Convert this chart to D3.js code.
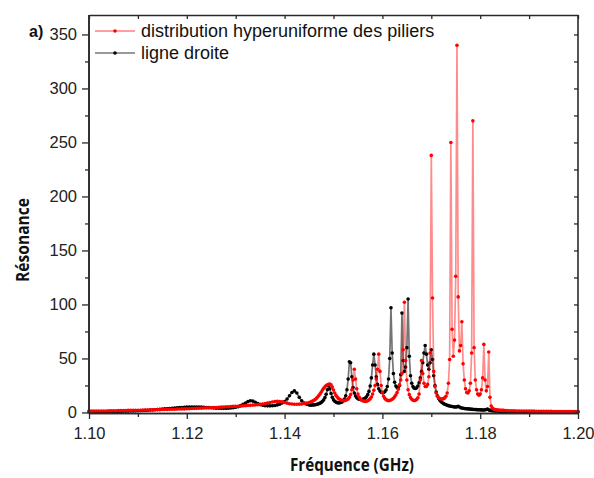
<!DOCTYPE html>
<html><head><meta charset="utf-8">
<script src="https://cdn.jsdelivr.net/npm/d3@7"></script>
<style>body{margin:0;background:#fff}</style>
</head><body>
<svg id="c" width="594" height="478"></svg>
<script>
// Frequency sweep segments (GHz): start, step, one value per point in each series segment
const sweepStart = [1.1000, 1.14525, 1.1855];
const sweepStep = [0.0005, 0.00025, 0.0005];

// "ligne droite" (black)
const blackA = [0.5,0.5,0.6,0.6,0.6,0.7,0.7,0.7,0.8,0.8,
0.9,0.9,1.0,1.0,1.1,1.2,1.2,1.3,1.4,1.5,
1.6,1.7,1.8,1.9,2.0,2.2,2.3,2.5,2.7,2.9,
3.1,3.3,3.5,3.7,3.9,4.1,4.3,4.5,4.6,4.8,
4.9,5.0,5.1,5.1,5.1,5.0,4.9,4.8,4.6,4.5,
4.3,4.2,4.0,3.9,3.8,3.8,3.8,3.9,4.1,4.4,
4.8,5.4,6.3,7.5,8.8,10.0,10.8,10.5,9.4,8.2,
7.3,6.7,6.3,6.1,6.1,6.2,6.5,7.0,7.7,8.7,
10.2,12.5,15.5,18.5,20.0,18.0,14.0,10.8,8.8,7.6,
7.0];
const blackB = [6.8,6.8,6.9,7.0,7.2,7.4,7.7,8.1,8.6,9.3,
10.3,11.7,13.8,16.8,21,25,22,17.5,14,11.8,
10.4,9.6,9.1,8.9,8.9,9.2,9.8,10.8,12.5,15.5,
21,31,47,46,33,23,18,15.2,13.6,12.7,
12.2,12.0,12.0,12.2,12.7,13.4,14.6,16.5,19.5,24.5,
32,44,54,44,33,26,22,19.8,18.6,18.2,
18.4,19.2,20.8,24,31,50,97,55,36,28,
24.5,23,23,25,35,92,48,38,42,60,
105,52,34,27,24,22.5,22.2,22.8,24.5,27.5,
32,38,46,55,62,54,44,40,46,58,
49,34,25,19,15.5,13,11.3,10,9,8.2,
7.6,7.1,6.7,6.3,6.0,5.7,5.5,5.3,5.1,5.0,
5.2,5.8,5.0,4.4,4.1,3.9,3.7,3.5,3.4,3.3,
3.2,3.1,3.0,2.9,2.8,2.7,2.6,2.5,2.5,2.4,
2.4,2.3,2.3,2.4,2.8,3.2,2.4,1.9,1.7,1.6,
1.5,1.4,1.3,1.3,1.2,1.2,1.1,1.1,1.0,1.0];
const blackC = [0.9,0.9,0.9,0.8,0.8,0.8,0.8,0.7,0.7,0.7,
0.7,0.7,0.6,0.6,0.6,0.6,0.6,0.6,0.5,0.5,
0.5,0.5,0.5,0.5,0.5,0.5,0.5,0.5,0.5,0.5];

// "distribution hyperuniforme des piliers" (red)
const redA = [1.2,1.2,1.3,1.3,1.3,1.4,1.4,1.4,1.5,1.5,
1.6,1.6,1.7,1.7,1.8,1.8,1.9,1.9,2.0,2.0,
2.1,2.1,2.2,2.2,2.3,2.4,2.4,2.5,2.6,2.6,
2.7,2.8,2.8,2.9,3.0,3.0,3.1,3.2,3.3,3.3,
3.4,3.5,3.6,3.7,3.8,3.9,4.0,4.1,4.2,4.3,
4.4,4.5,4.6,4.8,4.9,5.0,5.2,5.3,5.5,5.6,
5.6,5.8,5.9,6.1,6.3,6.4,6.6,6.8,7.0,7.2,
7.5,7.8,8.2,8.7,9.2,9.7,10.1,10.3,10.2,9.8,
9.2,8.6,8.1,7.8,7.6,7.6,7.7,7.9,8.2,8.6,9.1];
const redB = [9.5,10.0,10.5,11.2,12.0,13.0,14.2,15.6,17.2,19.0,
20.8,22.4,23.8,24.9,25.6,26.0,26.2,25.5,23.5,20.8,
18.0,15.8,14.2,13.0,12.2,11.6,11.2,11.0,11.0,11.2,
11.7,12.5,14.0,16.5,21,30,40,31,22,17,
14.2,12.5,11.4,10.8,10.4,10.3,10.4,10.8,11.5,12.6,
14.3,17,20.5,25,31,40,54,38,25,18.5,
15,13,11.8,11.2,11.0,11.1,11.5,12.2,13.2,14.5,
16.2,18.5,21.5,25.5,30,36,58,102,48,30,
21,16.5,13.8,12.2,11.3,11.0,11.2,12.0,13.6,17,
30,48,36,27,24,24,26,33,55,238,
106,38,24,18,15,13.5,12.8,12.5,12.5,12.8,
13.5,15,18,27,49,250,77,52,67,126,
340,107,57,62,84,45,30,22,18.5,18,
20,27,55,270,60,30,21,17,16,17,
21,32,63,30,20,24,56,14,6,4,
3.2,2.8,2.5,2.3,2.2,2.1,2.0,1.9,1.9,1.8];
const redC = [1.7,1.6,1.5,1.5,1.4,1.4,1.3,1.3,1.3,1.2,
1.2,1.2,1.1,1.1,1.1,1.0,1.0,1.0,1.0,0.9,
0.9,0.9,0.9,0.9,0.8,0.8,0.8,0.8,0.8,0.8];

const xMajorTicks = [1.10,1.12,1.14,1.16,1.18,1.20];
const xMinorTicks = [1.11,1.13,1.15,1.17,1.19];
const yMajorTicks = [0,50,100,150,200,250,300,350];
const yMinorTicks = [25,75,125,175,225,275,325];
const seriesNames = ["distribution hyperuniforme des piliers", "ligne droite"];
const seriesColors = ["#ff0000", "#000000"];
const xTitle = "Fréquence (GHz)";
const yTitle = "Résonance";
const panelLabel = "a)";

function buildSeries(segs) {
  const out = [];
  segs.forEach((vals, k) => {
    vals.forEach((v, i) => {
      out.push({f: +(sweepStart[k] + sweepStep[k] * i).toFixed(6), v: v});
    });
  });
  return out;
}
const redData = buildSeries([redA, redB, redC]);
const blackData = buildSeries([blackA, blackB, blackC]);

const svg = d3.select("#c");
const L = 89, R = 578, T = 15, B = 413;
const x = d3.scaleLinear().domain([1.10, 1.20]).range([L, R]);
const y = d3.scaleLinear().domain([-0.5, 368]).range([B, T]);

const tickFont = "'Liberation Sans', Arial, sans-serif";
const axisColor = "#2a2a2a";

function styleAxis(g) {
  g.selectAll("path.domain").attr("stroke", axisColor).attr("stroke-width", 1.6);
  g.selectAll(".tick line").attr("stroke", axisColor).attr("stroke-width", 1.3);
  g.selectAll(".tick text").attr("fill", "#222").style("font-family", tickFont).style("font-size", "16.5px");
}

// Data lines
const line = d3.line().x(d => x(d.f)).y(d => y(d.v));
const plots = [[blackData, seriesColors[1], 0.55], [redData, seriesColors[0], 0.45]];
plots.forEach(([data, col, op]) => {
  svg.append("path").datum(data).attr("d", line)
    .attr("fill", "none").attr("stroke", col).attr("stroke-width", 1.7).attr("stroke-opacity", op);
  svg.append("g").selectAll("circle").data(data).join("circle")
    .attr("cx", d => x(d.f)).attr("cy", d => y(d.v)).attr("r", 1.8).attr("fill", col);
});

// Axes
const gB = svg.append("g").attr("transform", `translate(0,${B})`)
  .call(d3.axisBottom(x).tickValues(xMajorTicks).tickSizeInner(6).tickSizeOuter(0).tickPadding(8).tickFormat(d3.format(".2f")));
styleAxis(gB);
const gBm = svg.append("g").attr("transform", `translate(0,${B})`)
  .call(d3.axisBottom(x).tickValues(xMinorTicks).tickSizeInner(4).tickSizeOuter(0).tickFormat(""));
styleAxis(gBm);
const gT = svg.append("g").attr("transform", `translate(0,${T})`)
  .call(d3.axisTop(x).tickValues(xMajorTicks.concat(xMinorTicks)).tickSizeInner(-4).tickSizeOuter(0).tickFormat(""));
styleAxis(gT);
const gL = svg.append("g").attr("transform", `translate(${L},0)`)
  .call(d3.axisLeft(y).tickValues(yMajorTicks).tickSizeInner(7).tickSizeOuter(0).tickPadding(5).tickFormat(d3.format("d")));
styleAxis(gL);
gL.select("path.domain").attr("d", `M0,${B}V${T}`);
const gLm = svg.append("g").attr("transform", `translate(${L},0)`)
  .call(d3.axisLeft(y).tickValues(yMinorTicks).tickSizeInner(4).tickSizeOuter(0).tickFormat(""));
styleAxis(gLm);
gLm.select("path.domain").attr("d", `M0,${B}V${T}`);
const gR = svg.append("g").attr("transform", `translate(${R},0)`)
  .call(d3.axisRight(y).tickValues(yMajorTicks.concat(yMinorTicks)).tickSizeInner(-4).tickSizeOuter(0).tickFormat(""));
styleAxis(gR);
gR.select("path.domain").attr("d", `M0,${B}V${T}`);

// Axis titles
const titleFont = "'Open Sans', 'DejaVu Sans', sans-serif";
svg.append("text").attr("x", 352).attr("y", 471).attr("text-anchor", "middle")
  .style("font-family", titleFont).style("font-weight", "bold").style("font-size", "17px")
  .attr("textLength", 124).attr("lengthAdjust", "spacingAndGlyphs").attr("fill", "#111").text(xTitle);
svg.append("text").attr("transform", "translate(29,240) rotate(-90)").attr("text-anchor", "middle")
  .style("font-family", titleFont).style("font-weight", "bold").style("font-size", "17px")
  .attr("textLength", 84).attr("lengthAdjust", "spacingAndGlyphs").attr("fill", "#111").text(yTitle);
svg.append("text").attr("x", 29).attr("y", 37)
  .style("font-family", "'Liberation Sans', Arial, sans-serif").style("font-weight", "bold").style("font-size", "16px")
  .attr("fill", "#111").text(panelLabel);

// Legend
const legY = [31, 53];
seriesNames.forEach((name, i) => {
  const g = svg.append("g");
  g.append("line").attr("x1", 95).attr("x2", 135).attr("y1", legY[i]).attr("y2", legY[i])
    .attr("stroke", seriesColors[i]).attr("stroke-width", 1.2).attr("stroke-opacity", i === 0 ? 0.75 : 0.8);
  g.append("circle").attr("cx", 115).attr("cy", legY[i]).attr("r", 1.8).attr("fill", seriesColors[i]);
  g.append("text").attr("x", 141).attr("y", legY[i] + 6)
    .style("font-family", tickFont).style("font-size", "18px").attr("fill", "#111").text(name);
});
</script>
</body></html>
